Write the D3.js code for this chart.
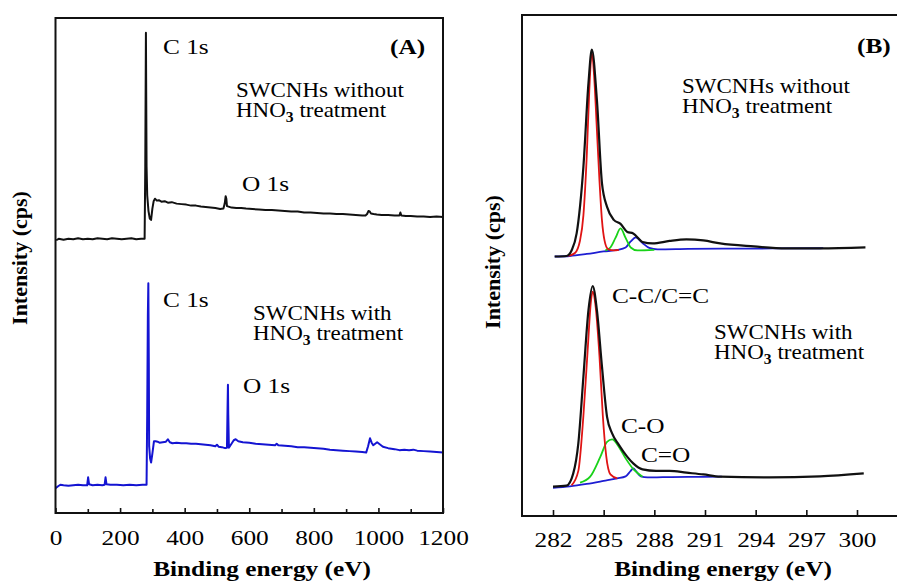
<!DOCTYPE html>
<html><head><meta charset="utf-8">
<script src="https://cdn.jsdelivr.net/npm/d3@7"></script>
<style>
body{margin:0;background:#fff}
svg{display:block}
text{font-family:"Liberation Serif","Times New Roman",serif;fill:#000}
</style>
</head><body>
<svg id="chart" width="897" height="582"></svg>
<script>
// ---------- data ----------
const surveyTicks = [0, 200, 400, 600, 800, 1000, 1200];
const surveyMinorTicks = [100, 300, 500, 700, 900, 1100];
const c1sTicks = [282, 285, 288, 291, 294, 297, 300];

// Panel A: survey spectra [binding energy (eV), intensity (a.u., offset for display)]
const surveyUntreated = [
[2,55.1],[10,55.4],[25,55.2],[40,55.4],[55,55.3],[70,55.5],[85,55.3],[100,55.4],[115,55.3],[130,55.5],
[145,55.4],[160,55.3],[175,55.5],[190,55.4],[205,55.3],[220,55.4],[235,55.5],[250,55.3],[265,55.4],[276,55.4],
[278,70],[280,97],[282,70],[284,64.2],[288,61],[292,59.5],[296,59.2],[300,61.5],[304,63],[308,63.5],
[314,63.1],[320,63.2],[328,62.9],[338,63.0],[348,62.7],[360,62.8],[375,62.5],[390,62.4],[405,62.3],[420,62.1],
[435,62.1],[450,61.9],[465,61.8],[480,61.7],[495,61.6],[510,61.4],[520,61.5],[524,62.5],[527,64.0],[529,63.5],
[531,62.0],[536,61.9],[545,61.7],[560,61.6],[575,61.6],[590,61.5],[610,61.4],[630,61.3],[650,61.2],[670,61.2],
[690,61.1],[710,61.0],[730,60.9],[750,60.9],[770,60.7],[790,60.7],[810,60.6],[830,60.5],[850,60.5],[870,60.4],
[890,60.4],[910,60.3],[930,60.2],[950,60.1],[960,60.1],[965,60.4],[969,61.0],[973,60.9],[977,60.5],[985,60.4],
[995,60.3],[1010,60.2],[1030,60.2],[1050,60.1],[1065,60.1],[1068,60.7],[1071,60.1],[1085,60.0],[1100,60.0],[1120,59.9],
[1140,59.9],[1160,59.8],[1180,59.9],[1200,59.8]
];
const surveyTreated = [
[0,5.0],[8,5.4],[15,5.7],[25,5.6],[40,5.5],[55,5.6],[70,5.7],[85,5.6],[98,5.6],[101,7.2],
[104,5.8],[115,5.6],[130,5.7],[145,5.6],[152,5.7],[155,7.2],[158,5.8],[170,5.7],[190,5.7],[210,5.6],
[230,5.7],[250,5.6],[270,5.7],[282,5.7],[284,20],[286,40],[287.5,46.4],[289,30],[290,13.5],[293,11],
[296,10.2],[300,12],[305,14.5],[310,14.5],[316,14.4],[322,14.2],[332,14.3],[342,14.4],[348,14.9],[354,14.3],
[362,14.1],[375,14.2],[390,14.1],[405,14.1],[420,14.0],[435,14.0],[450,13.9],[465,13.8],[480,13.7],[495,13.5],
[500,13.8],[505,13.4],[515,13.3],[525,13.1],[531,13.2],[533,22],[534,25.9],[535,20],[537,13.2],[545,14.0],
[552,14.7],[558,14.9],[566,14.5],[580,14.3],[600,14.2],[620,14.0],[640,13.9],[660,13.8],[680,13.7],[685,14.0],
[690,13.7],[710,13.6],[730,13.5],[750,13.3],[770,13.3],[790,13.2],[810,13.1],[830,13.0],[850,12.8],[870,12.7],
[890,12.6],[910,12.5],[930,12.4],[950,12.3],[962,12.2],[968,13.5],[974,15.1],[979,14.2],[984,13.7],[990,14.0],
[996,14.3],[1004,13.9],[1014,13.4],[1030,13.1],[1050,12.9],[1065,12.7],[1080,12.8],[1095,12.7],[1108,12.8],[1120,12.6],
[1140,12.5],[1160,12.4],[1180,12.3],[1200,12.2]
];

// Panel B: C 1s high-resolution spectra and fitted components
const c1sUntreatedTotal = [
[282.1,51.8],[282.8,51.9],[283.1,53.0],[283.4,56.4],[283.8,69.7],[284.1,86.4],[284.3,93.1],[284.6,83.0],[284.9,66.4],[285.2,61.7],
[285.6,59.1],[286.0,58.3],[286.4,56.7],[286.75,56.4],[287.3,54.7],[287.9,54.4],[288.9,54.9],[289.9,55.2],[290.9,55.0],[291.9,54.4],
[293.9,53.8],[295.8,53.4],[297.8,53.4],[300.5,53.6]
];
const c1sUntreatedCC = [
[282.9,51.9],[283.3,52.5],[283.6,55.0],[283.8,60.0],[284.0,72.0],[284.15,85.0],[284.3,92.6],[284.45,87.0],[284.6,77.0],[284.75,67.0],
[284.9,59.0],[285.05,55.0],[285.25,53.3],[285.6,53.0],[285.9,53.1]
];
const c1sUntreatedCO = [
[285.1,53.0],[285.4,53.6],[285.7,55.5],[286.0,57.4],[286.3,55.5],[286.6,53.6],[287.0,53.0],[288.0,53.1]
];
const c1sUntreatedCdO = [
[282.1,51.8],[283.0,51.9],[284.0,52.3],[285.0,52.8],[285.8,53.1],[286.3,53.6],[286.6,54.8],[286.9,55.6],[287.3,54.5],[287.7,53.5],
[288.2,53.2],[290,53.3],[292,53.35],[295,53.4],[298,53.45]
];
const c1sTreatedTotal = [
[282.0,5.85],[282.8,6.05],[283.2,8.5],[283.5,14.5],[283.8,27.8],[284.1,41.1],[284.35,45.9],[284.6,41.1],[284.9,29.8],[285.2,19.8],
[285.5,16.5],[285.9,14.2],[286.4,11.8],[286.75,10.5],[287.3,9.3],[288.1,9.0],[288.9,9.0],[289.9,8.65],[290.9,8.3],[291.9,7.85],
[294.8,7.7],[297.8,7.9],[300.4,8.5]
];
const c1sTreatedCC = [
[283.1,6.1],[283.5,9.0],[283.8,20.0],[284.05,33.0],[284.25,43.0],[284.35,44.8],[284.5,42.5],[284.75,32.0],[284.95,20.0],[285.15,12.0],
[285.4,8.3],[285.8,7.5]
];
const c1sTreatedCO = [
[283.6,6.65],[284.2,7.85],[284.8,11.8],[285.2,14.8],[285.5,15.3],[285.9,13.8],[286.3,11.5],[286.8,9.2],[287.3,7.85]
];
const c1sTreatedCdO = [
[282.0,5.6],[283.0,5.9],[284.0,6.4],[285.0,7.0],[285.8,7.5],[286.3,7.9],[286.6,9.0],[286.75,9.5],[286.95,8.8],[287.2,7.9],
[287.6,7.7],[288.5,7.75],[290,7.8],[292,7.85]
];

const panelLabels = ["(A)", "(B)"];
const peakLabels = ["C 1s", "O 1s"];
const componentLabels = ["C-C/C=C", "C-O", "C=O"];
const sampleUntreated = ["SWCNHs without", "HNO", "3", " treatment"];
const sampleTreated = ["SWCNHs with", "HNO", "3", " treatment"];
const axisTitles = ["Binding energy (eV)", "Intensity (cps)"];

// ---------- drawing ----------
const svg = d3.select("#chart");
const SX = 1.15; // horizontal text stretch of original figure

function txt(g, s, x, y, size, weight, anchor) {
  return g.append("text")
    .attr("transform", `translate(${x},${y}) scale(${SX},1)`)
    .attr("font-size", size).attr("font-weight", weight || "normal")
    .attr("text-anchor", anchor || "start").text(s);
}
function hno3(g, parts, x, y, size) {
  const t = g.append("text")
    .attr("transform", `translate(${x},${y}) scale(${SX},1)`)
    .attr("font-size", size);
  t.append("tspan").text(parts[1]);
  t.append("tspan").attr("font-size", size * 0.68).attr("font-weight", "bold").attr("dy", 5).text(parts[2]);
  t.append("tspan").attr("dy", -5).text(parts[3]);
  return t;
}

// ===== Panel A =====
const A = {l: 55.5, r: 443, t: 18, b: 513};
const xA = d3.scaleLinear().domain([0, 1200]).range([A.l, A.r]);
const yA = d3.scaleLinear().domain([0, 100]).range([A.b, A.t]);
const gA = svg.append("g");

const lineA = d3.line().x(d => xA(d[0])).y(d => yA(d[1]));
gA.append("path").datum(surveyUntreated).attr("d", lineA)
  .attr("fill", "none").attr("stroke", "#111").attr("stroke-width", 2).attr("stroke-linejoin", "round");
gA.append("path").datum(surveyTreated).attr("d", lineA)
  .attr("fill", "none").attr("stroke", "#1414d2").attr("stroke-width", 2).attr("stroke-linejoin", "round");

// minor ticks
gA.append("g").attr("transform", `translate(0,${A.b})`)
  .call(d3.axisBottom(xA).tickValues(surveyMinorTicks).tickSize(-4).tickFormat(""))
  .call(g => g.select(".domain").remove())
  .call(g => g.selectAll("line").attr("stroke", "#111").attr("stroke-width", 1.6));
const axA = gA.append("g").attr("transform", `translate(0,${A.b})`)
  .call(d3.axisBottom(xA).tickValues(surveyTicks).tickSize(-5).tickPadding(16).tickFormat(d3.format("d")))
  .call(g => g.select(".domain").remove());
axA.selectAll("line").attr("stroke", "#111").attr("stroke-width", 1.6);
axA.selectAll("text").attr("font-size", 22).attr("font-family", "Liberation Serif, serif")
  .attr("fill", "#000").attr("transform", `scale(${SX},1)`);

gA.append("rect").attr("x", A.l).attr("y", A.t).attr("width", A.r - A.l).attr("height", A.b - A.t)
  .attr("fill", "none").attr("stroke", "#111").attr("stroke-width", 2);

txt(gA, peakLabels[0], 163, 54, 22);
txt(gA, panelLabels[0], 390, 54, 22, "bold");
txt(gA, sampleUntreated[0], 236, 97, 20);
hno3(gA, sampleUntreated, 236, 117, 20);
txt(gA, peakLabels[1], 242, 191, 22);
txt(gA, peakLabels[0], 163, 307, 22);
txt(gA, sampleTreated[0], 253, 320, 20);
hno3(gA, sampleTreated, 253, 340, 20);
txt(gA, peakLabels[1], 243, 393, 22);
txt(gA, axisTitles[0], 262, 576, 22, "bold", "middle");
gA.append("text").attr("transform", "translate(27,258) rotate(-90)")
  .attr("font-size", 22).attr("font-weight", "bold").attr("text-anchor", "middle").text(axisTitles[1]);

// ===== Panel B =====
const B = {l: 522, r: 902, t: 15, b: 516};
const xB = d3.scaleLinear().domain([282, 300]).range([553, 857]);
const yB = d3.scaleLinear().domain([0, 100]).range([B.b, B.t]);
const gB = svg.append("g");
const lineB = d3.line().x(d => xB(d[0])).y(d => yB(d[1])).curve(d3.curveMonotoneX);

const seriesB = [
  [c1sUntreatedCdO, "#1e1ed2", 1.8],
  [c1sUntreatedCO, "#19d219", 1.8],
  [c1sUntreatedCC, "#e01414", 1.8],
  [c1sTreatedCdO, "#1e1ed2", 1.8],
  [c1sTreatedCO, "#19d219", 1.8],
  [c1sTreatedCC, "#e01414", 1.8],
  [c1sUntreatedTotal, "#111", 2.2],
  [c1sTreatedTotal, "#111", 2.2]
];
seriesB.forEach(s => {
  gB.append("path").datum(s[0]).attr("d", lineB)
    .attr("fill", "none").attr("stroke", s[1]).attr("stroke-width", s[2]).attr("stroke-linejoin", "round");
});

const axB = gB.append("g").attr("transform", `translate(0,${B.b})`)
  .call(d3.axisBottom(xB).tickValues(c1sTicks).tickSize(-6).tickPadding(15.5).tickFormat(d3.format("d")))
  .call(g => g.select(".domain").remove());
axB.selectAll("line").attr("stroke", "#111").attr("stroke-width", 1.6);
axB.selectAll("text").attr("font-size", 22).attr("font-family", "Liberation Serif, serif")
  .attr("fill", "#000").attr("transform", `scale(${SX},1)`);

gB.append("path").attr("d", `M${B.r},${B.t}H${B.l}V${B.b}H${B.r}`)
  .attr("fill", "none").attr("stroke", "#111").attr("stroke-width", 2);

txt(gB, panelLabels[1], 857, 53, 22, "bold");
txt(gB, sampleUntreated[0], 682, 93, 20);
hno3(gB, sampleUntreated, 682, 113, 20);
txt(gB, componentLabels[0], 612, 303, 22);
txt(gB, sampleTreated[0], 714, 339, 20);
hno3(gB, sampleTreated, 714, 359, 20);
txt(gB, componentLabels[1], 621, 433, 22);
txt(gB, componentLabels[2], 641, 462, 22);
txt(gB, axisTitles[0], 723, 576, 22, "bold", "middle");
gB.append("text").attr("transform", "translate(500,262) rotate(-90)")
  .attr("font-size", 22).attr("font-weight", "bold").attr("text-anchor", "middle").text(axisTitles[1]);
</script>
</body></html>
